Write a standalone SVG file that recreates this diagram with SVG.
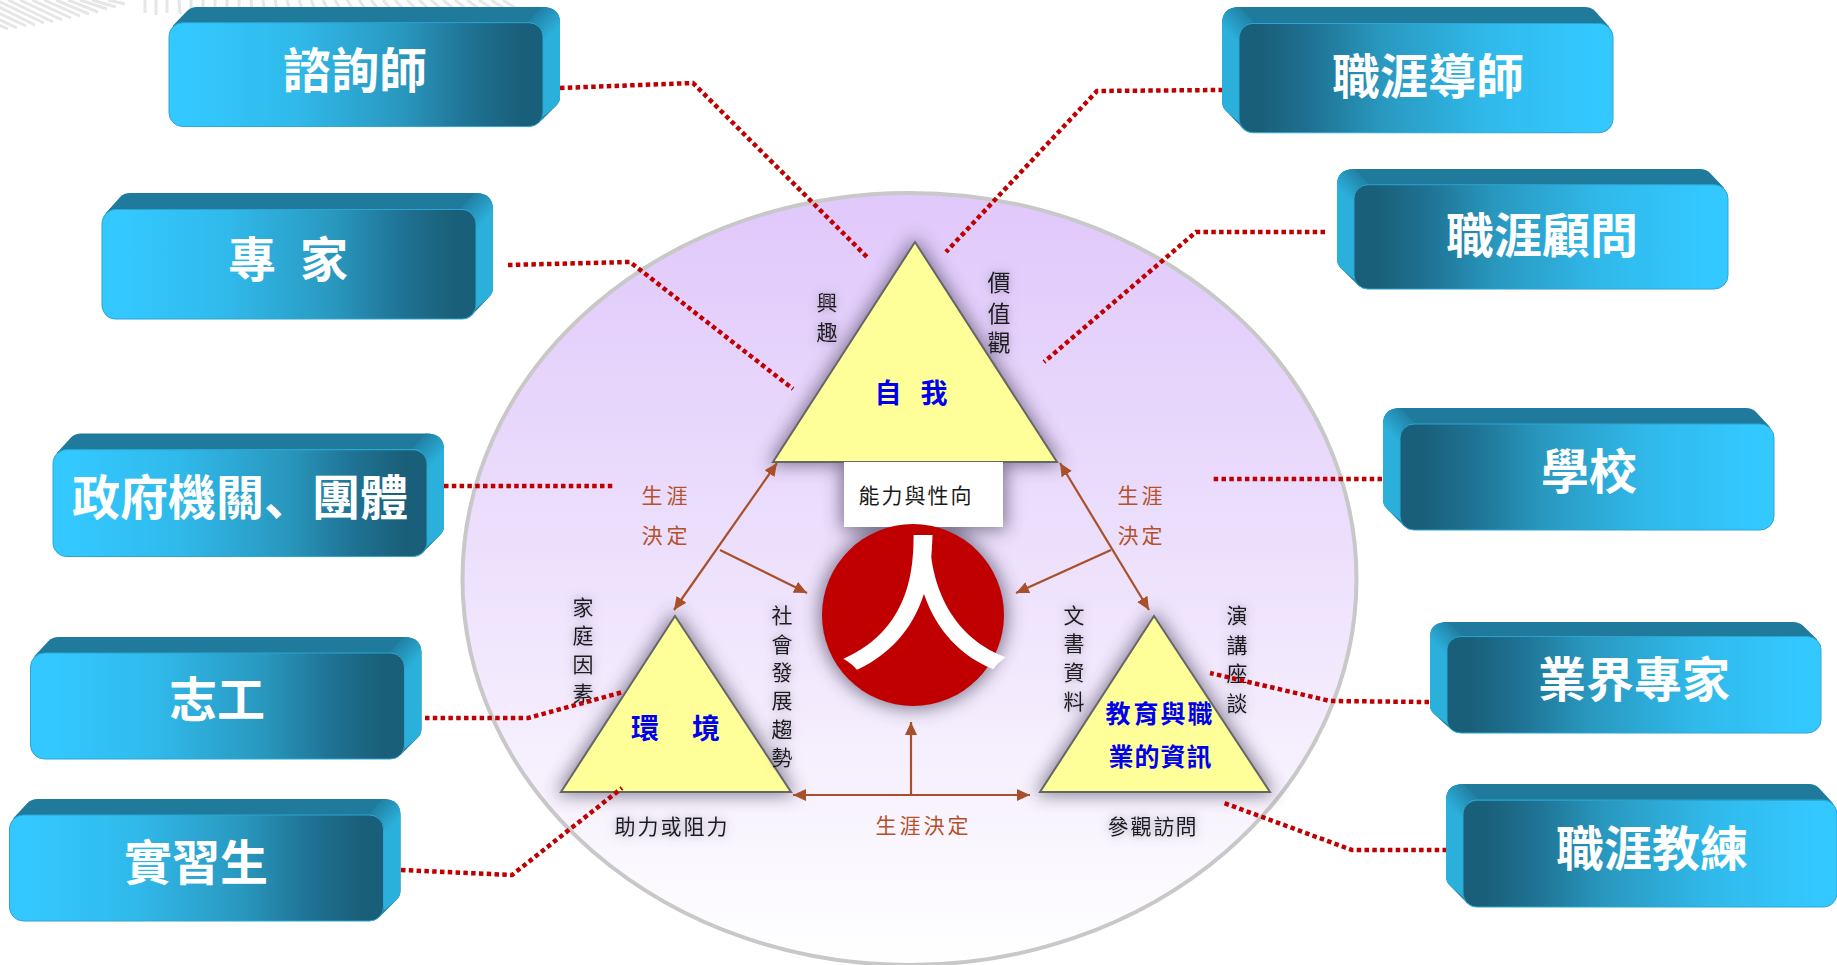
<svg xmlns="http://www.w3.org/2000/svg" width="1837" height="965" viewBox="0 0 1837 965">
<style>
text{font-family:"Noto Sans CJK TC","Noto Sans CJK SC",sans-serif;text-anchor:middle}
.big{font-size:48px;font-weight:700;fill:#fff}
.lab{font-size:21px;fill:#1a1a1a;filter:url(#halo)}
.dec{font-size:21px;fill:#b5502b}
.blu{font-weight:700;fill:#0000ee}
.tri{fill:#ffff99;stroke:#666;stroke-width:2}
.dot{fill:none;stroke:#c00000;stroke-width:4.5;stroke-dasharray:4.5 3.3}
.arr{fill:none;stroke:#a9502a;stroke-width:2.2}
</style>
<defs>
<linearGradient id="bg" x1="0" y1="0" x2="0" y2="1">
<stop offset="0" stop-color="#e0c8fb"/><stop offset=".45" stop-color="#ecdffc"/><stop offset="1" stop-color="#ffffff"/>
</linearGradient>
<linearGradient id="front" gradientUnits="userSpaceOnUse" x1="0" y1="0" x2="374" y2="0">
<stop offset=".06" stop-color="#33c8ff"/><stop offset=".34" stop-color="#30b9ea"/><stop offset=".62" stop-color="#2998bf"/><stop offset=".8" stop-color="#1f7394"/><stop offset=".94" stop-color="#1a5f79"/>
</linearGradient>
<linearGradient id="side" gradientUnits="userSpaceOnUse" x1="364" y1="4" x2="386" y2="24">
<stop offset="0" stop-color="#1f7a9c"/><stop offset="1" stop-color="#2bb0dc"/>
</linearGradient>
<filter id="soft" x="-20%" y="-20%" width="140%" height="140%"><feGaussianBlur stdDeviation="9"/></filter>
<filter id="halo" x="-60%" y="-30%" width="220%" height="160%"><feDropShadow dx="0" dy="0" stdDeviation="5" flood-color="#6a5a80" flood-opacity=".6"/></filter>
<marker id="ah" markerUnits="userSpaceOnUse" markerWidth="14" markerHeight="12" refX="13" refY="6" orient="auto-start-reverse"><path d="M0 0L13 6L0 12Z" fill="#a9502a"/></marker>
<g id="box">
<path d="M4 19L18 4Q22 0 28 0H373Q391 0 391 16V92Q391 97 387 101L370 118L40 122L4 60Z" fill="#1f7a9c"/>
<path d="M358 16Q374 16 374 30V112L387 101Q391 97 391 92V16Q391 0 373 0Z" fill="url(#side)"/>
<rect x="0" y="16" width="374" height="106" rx="14" fill="url(#front)" stroke="#2ba6d2" stroke-width="1"/>
</g>
</defs>
<g id="stripes" fill="none" stroke="#e6e6e6" stroke-width="3">
<path d="M0 26L-20 16M8 29L-30 12M17 28L-25 8M26 26L-20 4M35 25L-15 0M44 23L-4 0M53 22L8 0M62 20L20 0M71 18L32 0M80 16L44 0M89 14L56 0M98 12L68 0M107 9L80 0M116 7L92 0M125 4L108 0"/>
<path d="M145 0V13M156 0V15M167 0V13M179 0L180 14M191 0L191 14M203 0V14M215 0V14M227 0V14M239 0V14M251 0L252 14M263 0L265 14M275 0L278 14M287 0L291 14M299 0L304 14M311 0L317 14M323 0L330 14M335 0L343 14M347 0L356 14M359 0L369 14M371 0L382 14M383 0L395 14M395 0L408 14M407 0L421 14M419 0L434 14M431 0L447 14M443 0L460 14M455 0L473 14M467 0L486 14M479 0L500 14M491 0L513 14M503 0L525 14"/>
</g>
<ellipse id="backdrop" cx="909.5" cy="579" rx="447" ry="386" fill="url(#bg)" stroke="#c8c8c8" stroke-width="4"/>
<g id="shadows" fill="#3d3550" stroke="#3d3550" stroke-width="6" opacity=".62" filter="url(#soft)">
<polygon points="915,242 773,462 1057,462"/>
<polygon points="675,616 561,792 791,792"/>
<polygon points="1154,616 1040,792 1270,792"/>
<rect x="844" y="462" width="159" height="65"/>
<circle cx="913" cy="615" r="91"/>
</g>
<g id="self">
<polygon class="tri" points="915,242 773,462 1057,462"/>
<text class="blu" font-size="27" x="888 934" y="403">自我</text>
<text class="lab" x="827 827" y="310 340">興趣</text>
<text class="lab" style="font-size:23px" x="999 999 999" y="291 322 351">價值觀</text>
</g>
<g id="ability">
<rect x="844" y="462" width="159" height="65" fill="#fff"/>
<text font-size="21" fill="#1a1a1a" x="869 892 915 938 961" y="503">能力與性向</text>
</g>
<g id="person">
<circle cx="913" cy="615" r="91" fill="#c00000"/>
<text font-size="170" font-weight="500" fill="#fff" transform="translate(924 658) scale(1.02 .86)">人</text>
</g>
<g id="environment">
<polygon class="tri" points="675,616 561,792 791,792"/>
<text class="blu" font-size="28" x="645 706" y="739">環境</text>
<text class="lab" x="583 583 583 583" y="615 643 672 701">家庭因素</text>
<text class="lab" x="782 782 782 782 782 782" y="623 652 680 708 737 765">社會發展趨勢</text>
<text class="lab" x="625 648 671 694 717" y="834">助力或阻力</text>
</g>
<g id="information">
<polygon class="tri" points="1154,616 1040,792 1270,792"/>
<text class="blu" font-size="25" x="1118 1146 1173 1200" y="723">教育與職</text>
<text class="blu" font-size="25" x="1121 1147 1173 1199" y="766">業的資訊</text>
<text class="lab" x="1074 1074 1074 1074" y="623 651 680 709">文書資料</text>
<text class="lab" x="1237 1237 1237 1237" y="623 653 681 711">演講座談</text>
<text class="lab" x="1118 1141 1164 1186" y="834">參觀訪問</text>
</g>
<g id="decisions">
<text class="dec" x="652 677" y="503">生涯</text>
<text class="dec" x="652 677" y="543">決定</text>
<text class="dec" x="1128 1152" y="503">生涯</text>
<text class="dec" x="1128 1152" y="543">決定</text>
<text class="dec" x="886 910 934 958" y="833">生涯決定</text>
</g>
<g id="connectors">
<line class="arr" x1="777" y1="463" x2="674" y2="610" marker-start="url(#ah)" marker-end="url(#ah)"/>
<line class="arr" x1="720" y1="550" x2="807" y2="593" marker-end="url(#ah)"/>
<line class="arr" x1="1060" y1="463" x2="1149" y2="610" marker-start="url(#ah)" marker-end="url(#ah)"/>
<line class="arr" x1="1111" y1="550" x2="1016" y2="593" marker-end="url(#ah)"/>
<line class="arr" x1="793" y1="795" x2="1030" y2="795" marker-start="url(#ah)" marker-end="url(#ah)"/>
<line class="arr" x1="911" y1="795" x2="911" y2="722" marker-end="url(#ah)"/>
<polyline class="dot" points="560,88 693,83 869,259"/>
<polyline class="dot" points="508,265 630,262 793,389"/>
<polyline class="dot" points="444,486 613,486"/>
<polyline class="dot" points="425,718 528,718 623,692"/>
<polyline class="dot" points="401,870 512,875 622,788"/>
<polyline class="dot" points="1223,90 1097,91 946,252"/>
<polyline class="dot" points="1325,232 1196,232 1044,362"/>
<polyline class="dot" points="1382,479 1213,479"/>
<polyline class="dot" points="1429,702 1330,701 1210,673"/>
<polyline class="dot" points="1447,850 1352,850 1224,803"/>
</g>
<g id="counselor"><use href="#box" transform="translate(169 7) scale(1 .98)"/><text class="big" x="355" y="88">諮詢師</text></g>
<g id="expert"><use href="#box" transform="translate(102 193) scale(1 1.033)"/><text class="big" x="252 288 324" y="277">專 家</text></g>
<g id="government"><use href="#box" transform="translate(53 433.5) scale(1 1.008)"/><text class="big" x="240" y="515">政府機關<tspan font-family="Noto Sans CJK SC">、</tspan>團體</text></g>
<g id="volunteer"><use href="#box" transform="translate(30.5 637)"/><text class="big" x="217" y="717">志工</text></g>
<g id="intern"><use href="#box" transform="translate(9.5 799)"/><text class="big" x="196" y="880">實習生</text></g>
<g id="mentor"><use href="#box" transform="translate(1613 7) scale(-1 1.03)"/><text class="big" x="1428" y="94">職涯導師</text></g>
<g id="advisor"><use href="#box" transform="translate(1728 169) scale(-1 .984)"/><text class="big" x="1542" y="253">職涯顧問</text></g>
<g id="school"><use href="#box" transform="translate(1774 408) scale(-1 1)"/><text class="big" x="1589" y="489">學校</text></g>
<g id="industry"><use href="#box" transform="translate(1821 622) scale(-1 .91)"/><text class="big" x="1634" y="697">業界專家</text></g>
<g id="coach"><use href="#box" transform="translate(1837 784) scale(-1 1.008)"/><text class="big" x="1652" y="866">職涯教練</text></g>
</svg>
